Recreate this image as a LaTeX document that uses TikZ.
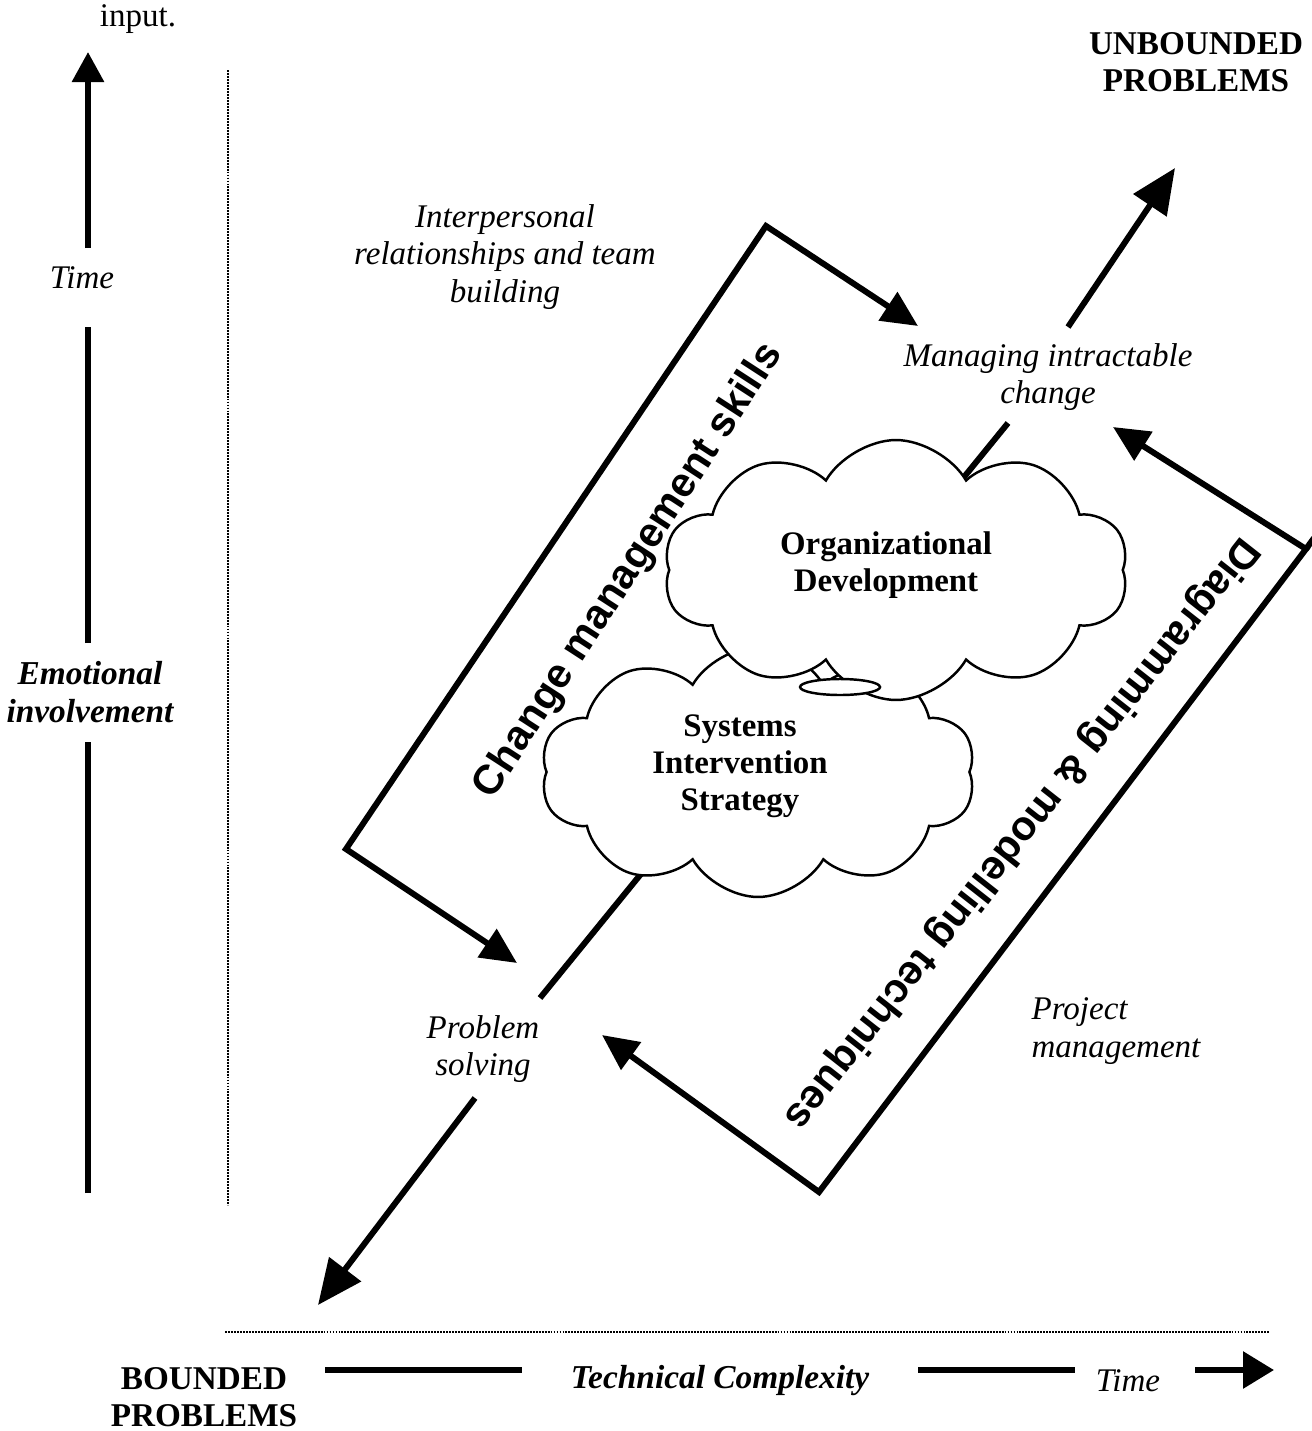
\documentclass[tikz,border=0pt]{standalone}
\usepackage{fontspec}
\setmainfont{Liberation Serif}
\setsansfont{Liberation Sans}
\usetikzlibrary{arrows.meta,shapes.symbols}

\begin{document}
\begin{tikzpicture}[x=0.02cm,y=-0.02cm,
  lbl/.style={font=\fontsize{18.8}{21.5}\selectfont\itshape, align=center, inner sep=0pt},
  bilbl/.style={font=\fontsize{19}{21.5}\selectfont\bfseries\itshape, align=center, inner sep=0pt},
  heading/.style={font=\fontsize{18.9}{21}\selectfont\bfseries, align=center, inner sep=0pt},
  cloudtxt/.style={font=\fontsize{18.7}{21}\selectfont\bfseries, align=center, inner sep=0pt},
  band/.style={font=\sffamily\bfseries\fontsize{23.5}{26}\selectfont, inner sep=0pt},
  heavy/.style={line width=3.4pt, line join=miter},
  dotline/.style={line width=1.2pt, dash pattern=on 1.1pt off 0.6pt},
  puff/.style={cloud, cloud puffs=10, cloud puff arc=120, draw, line width=1.4pt, fill=white},
  bighead/.style={-{Triangle[length=0.9cm,width=0.78cm]}},
  smallhead/.style={-{Triangle[length=0.6cm,width=0.62cm]}},
  brackettips/.style={{Triangle[length=0.72cm,width=0.66cm]}-{Triangle[length=0.72cm,width=0.66cm]}},
]
\useasboundingbox (0,0) rectangle (1312,1431);

% ---- vertical axis: emotional involvement over time ----
\coordinate (vbot) at (88,1193);
\coordinate (v1) at (88,742);
\coordinate (v2) at (88,643);
\coordinate (v3) at (88,327);
\coordinate (v4) at (88,248);
\coordinate (vtop) at (88,52);
\draw[heavy] (vbot) -- (v1);
\draw[heavy] (v2) -- (v3);
\draw[heavy, smallhead] (v4) -- (vtop);

\coordinate (dv1) at (228,70);
\coordinate (dv2) at (228,1205);
\draw[dotline] (dv1) -- (dv2);
\coordinate (dh1) at (225,1332);
\coordinate (dh2) at (1270,1332);
\draw[dotline] (dh1) -- (dh2);

\node[lbl, font=\fontsize{18.8}{21.5}\selectfont] (input) at (138,19) {input.};
\node[lbl] (tleft) at (82,278) {Time};
\node[bilbl] (emo) at (90,692) {Emotional\\involvement};

\node[heading] (unb) at (1196,62) {UNBOUNDED\\PROBLEMS};
\node[heading] (bnd) at (204,1397) {BOUNDED\\PROBLEMS};

% ---- horizontal axis: technical complexity over time ----
\coordinate (h1) at (325,1370);
\coordinate (h2) at (522,1370);
\coordinate (h3) at (918,1370);
\coordinate (h4) at (1075,1370);
\coordinate (h5) at (1195,1370);
\coordinate (h6) at (1274,1370);
\draw[heavy] (h1) -- (h2);
\draw[heavy] (h3) -- (h4);
\draw[heavy, -{Triangle[length=0.62cm,width=0.72cm]}] (h5) -- (h6);
\node[bilbl] (tech) at (720,1381) {Technical Complexity};
\node[lbl] (tbot) at (1128,1381) {Time};

% ---- main diagonal: bounded to unbounded problems ----
\coordinate (dA) at (540,998);
\coordinate (dB) at (1008,423);
\draw[heavy] (dA) -- (dB);
\coordinate (dC) at (1068,327);
\coordinate (dD) at (1175,168);
\draw[heavy, bighead] (dC) -- (dD);
\coordinate (dE) at (475,1098);
\coordinate (dF) at (318,1305);
\draw[heavy, bighead] (dE) -- (dF);

% ---- clouds ----
\node[puff, minimum width=8.7cm, minimum height=5.0cm] (sis) at (758,772) {};
\node[puff, minimum width=9.3cm, minimum height=5.2cm] (od) at (896,570) {};
\draw[line width=1.4pt, fill=white] (840,687) ellipse [x radius=40, y radius=8];
\node[cloudtxt] (odt) at (886,565) {Organizational\\Development};
\node[cloudtxt] (sist) at (740,766) {Systems\\Intervention\\Strategy};

% ---- bracketing arrows ----
\coordinate (la) at (918,326);
\coordinate (lb) at (766,226);
\coordinate (lc) at (346,849);
\coordinate (ld) at (517,963);
\draw[heavy, brackettips] (la) -- (lb) -- (lc) -- (ld);

\coordinate (ra) at (1113,427);
\coordinate (rb) at (1306,549);
\coordinate (rc) at (819,1192);
\coordinate (rd) at (602,1035);
\coordinate (rx) at (1314,538);
\draw[heavy, brackettips] (ra) -- (rb) -- (rc) -- (rd);
\draw[heavy] (rb) -- (rx);

\node[band, rotate=57] (cms) at (629,571) {Change management skills};
\node[band, rotate=231.8] (dmt) at (1021,833) {Diagramming \& modelling techniques};

% ---- labels ----
\node[lbl] (ipr) at (505,257) {Interpersonal\\relationships and team\\building};
\node[lbl] (mic) at (1048,377) {Managing intractable\\change};
\node[lbl] (ps) at (483,1049) {Problem\\solving};
\node[lbl, align=left] (pm) at (1116,1031) {Project\\management};

\end{tikzpicture}
\end{document}
